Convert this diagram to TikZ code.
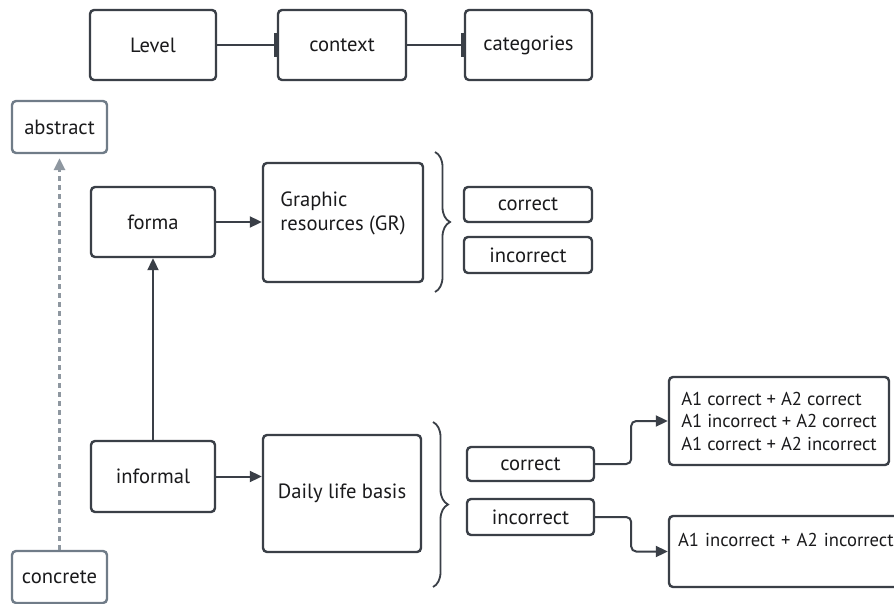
\documentclass[tikz,border=0pt]{standalone}
\usepackage{fontspec}
\setmainfont{PT Sans}
\usepackage{xcolor}
\usetikzlibrary{arrows.meta,decorations.pathreplacing}

\definecolor{boxline}{RGB}{58,63,71}
\definecolor{softline}{RGB}{112,124,136}
\definecolor{dashline}{RGB}{142,151,160}
\definecolor{textdark}{RGB}{26,26,28}

\begin{document}
\begin{tikzpicture}[x=1pt,y=1pt,yscale=-1,xscale=1,
  font=\fontsize{20.6}{23.5}\selectfont,text=textdark,
  box/.style={draw=boxline,line width=2.4pt,rounded corners=4pt,fill=white,inner sep=0pt,align=center},
  softbox/.style={box,draw=softline},
  resbox/.style={box,align=left,font=\fontsize{18.6}{22.5}\selectfont},
  upbox/.style={text depth=23pt},
  link/.style={draw=boxline,line width=2pt},
  arr/.style={link,-{Triangle[length=12pt,width=11pt]}},
  bararr/.style={link,-{Bar[width=24pt,line width=3pt]}},
  levelarr/.style={draw=dashline,line width=3pt,dash pattern={on 5pt off 4pt},-{Triangle[length=12pt,width=11pt]},shorten >=4pt},
  brc/.style={draw=boxline,line width=1.8pt,decorate,decoration={brace,amplitude=15pt}}
]
  \path [fill=white] (0,0) rectangle (894,604);
  \useasboundingbox (0,0) rectangle (894,604);

  %Shape: header row
  \node [box,minimum width=126,minimum height=70] (lvl) at (153,45) {Level};
  \node [box,minimum width=128,minimum height=70] (ctx) at (342,45) {context};
  \node [box,minimum width=127,minimum height=70] (cat) at (528.5,45) {categories};

  %Shape: level axis
  \node [softbox,minimum width=95,minimum height=52] (abs) at (59.5,127) {abstract};
  \node [softbox,minimum width=95,minimum height=52] (conc) at (59.5,577) {concrete};

  %Shape: formal branch
  \node [box,minimum width=124,minimum height=70] (forma) at (153,222) {forma};
  \node [box,upbox,align=left,minimum width=160,minimum height=119] (gr) at (343,222.5) {Graphic\\resources (GR)};
  \node [box,minimum width=128,minimum height=35] (grok) at (528,204.5) {correct};
  \node [box,minimum width=128,minimum height=36] (grno) at (528,255) {incorrect};

  %Shape: informal branch
  \node [box,minimum width=124,minimum height=71] (informal) at (153,476.5) {informal};
  \node [box,minimum width=158,minimum height=117] (daily) at (342,493.5) {Daily life basis};
  \node [box,minimum width=127,minimum height=34] (dok) at (530.5,464) {correct};
  \node [box,minimum width=127,minimum height=36] (dno) at (530.5,517) {incorrect};

  %Shape: answer pairs
  \node [resbox,minimum width=220,minimum height=88] (res1) at (779,421) {A1 correct + A2 correct\\A1 incorrect + A2 correct\\A1 correct + A2 incorrect};
  \node [resbox,upbox,text width=228,minimum width=246,minimum height=71] (res2) at (792,551.5) {A1 incorrect + A2 incorrect};

  %Straight Lines
  \draw [bararr] (lvl) -- (ctx);
  \draw [bararr] (ctx) -- (cat);
  \draw [levelarr] (conc) -- (abs);
  \draw [arr] (forma.east) -- (forma.east -| gr.west);
  \draw [arr] (informal) -- (forma);
  \draw [arr] (informal.east) -- (informal.east -| daily.west);

  %Elbow Lines
  \draw [arr,rounded corners=5pt] (dok.east) -- ++(36,0) |- (res1.west);
  \draw [arr,rounded corners=5pt] (dno.east) -- ++(36,0) |- (res2.west);

  %Braces
  \draw [brc] (435,152) -- (435,292);
  \draw [brc] (433,422) -- (433,587);
\end{tikzpicture}
\end{document}
